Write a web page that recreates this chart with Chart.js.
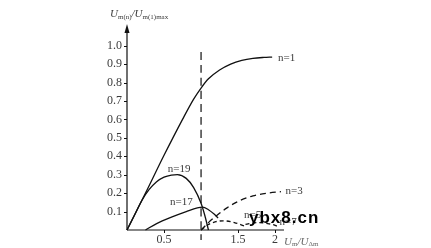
<!DOCTYPE html>
<html><head><meta charset="utf-8">
<script src="https://cdn.jsdelivr.net/npm/chart.js@4.4.0/dist/chart.umd.min.js"></script>
<style>html,body{margin:0;padding:0;background:#fff;}</style>
</head><body>
<canvas id="c" width="431" height="248"></canvas>
<script>
// ---- data ----
const xTickValues = [0.5, 1.5, 2];
const yTickValues = [0.1,0.2,0.3,0.4,0.5,0.6,0.7,0.8,0.9,1.0];

const n1X  = [0, 0.25, 0.5, 0.75, 0.9, 1.0, 1.1, 1.25, 1.4, 1.55, 1.7, 1.85, 1.96];
const n1Y  = [0, 0.20, 0.405, 0.60, 0.71, 0.77, 0.82, 0.868, 0.90, 0.92, 0.931, 0.936, 0.938];

const n19X = [0, 0.1, 0.2, 0.3, 0.4, 0.5, 0.6, 0.68, 0.8, 0.9, 1.0, 1.05, 1.1];
const n19Y = [0, 0.08, 0.16, 0.22, 0.262, 0.287, 0.298, 0.30, 0.28, 0.23, 0.145, 0.08, 0.0];

const n17X = [0.25, 0.4, 0.6, 0.8, 0.95, 1.02, 1.1, 1.18, 1.23];
const n17Y = [0.0, 0.035, 0.07, 0.10, 0.12, 0.124, 0.11, 0.085, 0.065];

const n3X  = [1.0, 1.1, 1.2, 1.35, 1.5, 1.7, 1.9, 2.08];
const n3Y  = [0.0, 0.04, 0.075, 0.12, 0.155, 0.185, 0.2, 0.208];

const n5X  = [1.0, 1.1, 1.2, 1.3, 1.45, 1.6];
const n5Y  = [0.0, 0.03, 0.045, 0.05, 0.04, 0.02];

const n7X  = [1.6, 1.75, 1.9, 2.0, 2.05];
const n7Y  = [0.03, 0.04, 0.035, 0.025, 0.015];

const refX = [1, 1];
const refY = [0.965, -0.054];

const curveLabels = [
  {t:'n=1',  x:2.04, y:0.935},
  {t:'n=19', x:0.55, y:0.33},
  {t:'n=17', x:0.58, y:0.152},
  {t:'n=3',  x:2.14, y:0.21},
  {t:'n=5',  x:1.58, y:0.08},
  {t:'n=7',  x:2.06, y:0.045}
];

const pts = (xs, ys) => xs.map((x, i) => ({x, y: ys[i]}));
const INK = '#111';
const TXT = '#3a3a3a';

function ds(xs, ys, dash) {
  return {data: pts(xs, ys), borderColor: INK, borderWidth: 1.3, pointRadius: 0,
          tension: 0.4, cubicInterpolationMode: 'monotone', fill: false,
          borderDash: dash || [], clip: false};
}

const deco = {
  id: 'deco',
  afterDatasetsDraw(chart) {
    const ctx = chart.ctx, xs = chart.scales.x, ys = chart.scales.y;
    const x0 = xs.getPixelForValue(0), y0 = ys.getPixelForValue(0);
    ctx.save();
    ctx.strokeStyle = INK; ctx.fillStyle = INK; ctx.lineWidth = 1.2;
    // axes
    ctx.beginPath();
    ctx.moveTo(x0, y0); ctx.lineTo(x0, 30);
    ctx.moveTo(x0, y0); ctx.lineTo(xs.getPixelForValue(2.12), y0);
    ctx.stroke();
    ctx.beginPath();
    ctx.moveTo(x0, 24); ctx.lineTo(x0 - 2.5, 33); ctx.lineTo(x0 + 2.5, 33); ctx.closePath(); ctx.fill();
    // outward ticks
    ctx.lineWidth = 1;
    ctx.beginPath();
    yTickValues.forEach(v => { const p = Math.round(ys.getPixelForValue(v)) + 0.5; ctx.moveTo(x0, p); ctx.lineTo(x0 - 3, p); });
    [0.5, 1.5, 2].forEach(v => { const p = Math.round(xs.getPixelForValue(v)) + 0.5; ctx.moveTo(p, y0); ctx.lineTo(p, y0 + 3); });
    ctx.stroke();
    // curve labels
    ctx.fillStyle = TXT;
    ctx.font = '11px "Liberation Serif", serif';
    ctx.textBaseline = 'middle'; ctx.textAlign = 'left';
    curveLabels.forEach(l => ctx.fillText(l.t, xs.getPixelForValue(l.x), ys.getPixelForValue(l.y)));
    // y axis title  U m(n) / U m(1)max
    let tx = 110; const ty = 17;
    ctx.textBaseline = 'alphabetic';
    const big = 'italic 11px "Liberation Serif", serif', small = '7px "Liberation Serif", serif';
    const seg = (t, f, dy) => { ctx.font = f; ctx.fillText(t, tx, ty + dy); tx += ctx.measureText(t).width; };
    seg('U', big, 0); seg('m(n)', small, 2); seg('/', big, 0); seg('U', big, 0); seg('m(1)max', small, 2);
    // x axis title U m / U Δm
    tx = 284; const tY = 245;
    const seg2 = (t, f, dy) => { ctx.font = f; ctx.fillText(t, tx, tY + dy); tx += ctx.measureText(t).width; };
    ctx.fillStyle = '#666';
    seg2('U', big, 0); seg2('m', small, 1); seg2('/', big, 0); seg2('U', big, 0); seg2('Δm', small, 1);
    // watermark
    ctx.fillStyle = '#000';
    ctx.font = 'bold 17px "Liberation Sans", Arial, sans-serif';
    ctx.textBaseline = 'alphabetic';
    try { ctx.letterSpacing = '1px'; } catch (e) {}
    ctx.fillText('ybx8.cn', 249, 223);
    ctx.restore();
  }
};

new Chart(document.getElementById('c'), {
  type: 'line',
  data: {
    datasets: [
      ds(n1X, n1Y), ds(n19X, n19Y), ds(n17X, n17Y),
      ds(n3X, n3Y, [6, 4]), ds(n5X, n5Y, [4, 3]), ds(n7X, n7Y, [4, 3]),
      Object.assign(ds(refX, refY, [8, 5]), {tension: 0, borderWidth: 1.2})
    ]
  },
  options: {
    responsive: false, animation: false, devicePixelRatio: 1,
    layout: {padding: {left: 0, top: 23.5, right: 147, bottom: 0}},
    plugins: {legend: {display: false}, tooltip: {enabled: false}},
    scales: {
      x: {
        type: 'linear', min: 0, max: 2.12,
        grid: {display: false, drawTicks: false, tickLength: 0}, border: {display: false},
        afterBuildTicks: s => { s.ticks = xTickValues.map(v => ({value: v})); },
        afterFit: s => { s.height = 18; },
        ticks: {autoSkip: false, maxRotation: 0, padding: 3, color: TXT,
                font: {family: '"Liberation Serif", serif', size: 12},
                callback: v => String(v)}
      },
      y: {
        type: 'linear', min: 0, max: 1.12,
        grid: {display: false, drawTicks: false, tickLength: 0}, border: {display: false},
        afterBuildTicks: s => { s.ticks = yTickValues.map(v => ({value: v})); },
        afterFit: s => { s.width = 127; },
        ticks: {autoSkip: false, padding: 5, color: TXT,
                font: {family: '"Liberation Serif", serif', size: 12},
                callback: v => Number(v).toFixed(1)}
      }
    }
  },
  plugins: [deco]
});
</script>
</body></html>
